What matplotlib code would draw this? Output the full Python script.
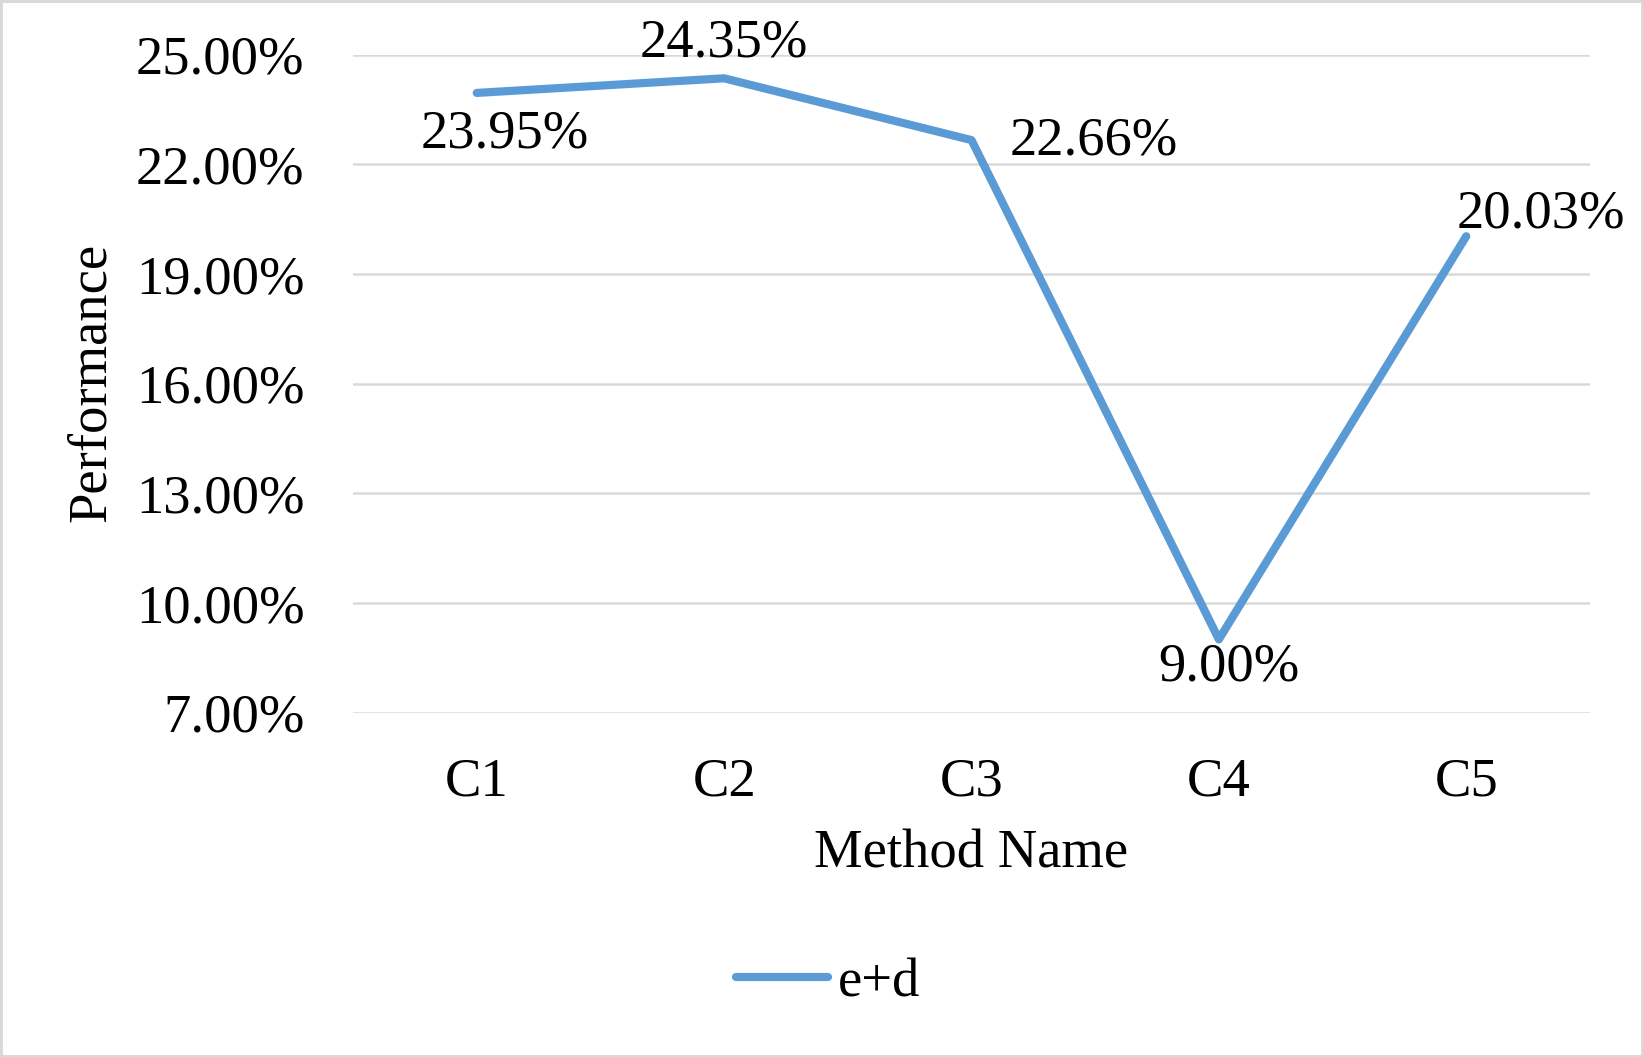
import matplotlib
matplotlib.use("Agg")
import matplotlib.pyplot as plt
from matplotlib.patches import Rectangle
from matplotlib.ticker import FuncFormatter

# datos del grafico
metodos = ["C1", "C2", "C3", "C4", "C5"]
valores = [23.95, 24.35, 22.66, 9.00, 20.03]
serie = "e+d"
y_ticks = [7, 10, 13, 16, 19, 22, 25]

# desplazamiento de cada etiqueta (en puntos)
offsets = [(20, -30), (0, 25), (88, -1), (7, -20), (54, 16)]

plt.rcParams['font.family'] = ['Liberation Serif', 'DejaVu Serif']
fs = 39.3
azul = "#5B9BD5"
gris = "#D9D9D9"

fig = plt.figure(figsize=(16.43, 10.57), dpi=100)
ax = fig.add_axes([0.2149, 0.3259, 0.7528, 0.6225])

x = list(range(len(metodos)))
ax.plot(x, valores, color=azul, linewidth=5.9, solid_capstyle="round",
        solid_joinstyle="round", label=serie, zorder=3)

for xi, v, off in zip(x, valores, offsets):
    ax.annotate(f"{v:.2f}%", (xi, v), xytext=off, textcoords="offset points",
                ha="center", va="center", fontsize=fs, zorder=4)

ax.set_xlim(-0.5, len(metodos) - 0.5)
ax.set_ylim(7, 25)
ax.set_yticks(y_ticks)
ax.yaxis.set_major_formatter(FuncFormatter(lambda v, p: f"{v:.2f}%"))
ax.set_xticks(x)
ax.set_xticklabels(metodos)
ax.tick_params(axis="y", length=0, pad=35, labelsize=fs)
ax.tick_params(axis="x", length=0, pad=32, labelsize=fs)
ax.grid(axis="y", color=gris, linewidth=1.8)
ax.set_axisbelow(True)
for s in ax.spines.values():
    s.set_visible(False)

fig.text(0.056, 0.5 * (0.3259 + 0.9484) + 0.001, "Performance", rotation=90,
         ha="center", va="center", fontsize=fs)
fig.text(0.591, 0.192, "Method Name", ha="center", va="center", fontsize=fs)

leg = fig.legend(loc="center", bbox_to_anchor=(0.504, 0.070), frameon=False,
                 fontsize=fs, handlelength=1.68, handletextpad=0.18)

# borde del grafico
fig.patches.append(Rectangle((0, 0), 1, 1, transform=fig.transFigure, fill=False,
                             edgecolor=gris, linewidth=3.5))

fig.savefig("out.png", dpi=100)
